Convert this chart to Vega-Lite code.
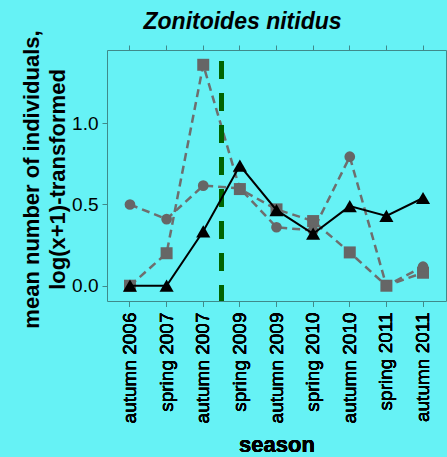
{
  "$schema": "https://vega.github.io/schema/vega-lite/v6.json",
  "width": 339,
  "height": 251,
  "autosize": {"type": "none"},
  "padding": {"left": 107, "top": 50, "right": 1, "bottom": 156},
  "background": "#66f2f5",
  "config": {
    "view": {"stroke": "#3f8a8a", "strokeWidth": 1, "fill": null},
    "font": "Liberation Sans",
    "axis": {"grid": false, "domain": false, "tickColor": "#3f8a8a", "tickSize": 5, "labelColor": "#000000", "labelFont": "Liberation Sans", "labelFontSize": 19, "titleFont": "Liberation Sans", "titleColor": "#000000"}
  },
  "title": {"text": "Zonitoides nitidus", "fontSize": 23, "fontWeight": "bold", "fontStyle": "italic", "color": "#000000", "anchor": "middle", "frame": "group", "dx": -34, "baseline": "alphabetic", "offset": -22},
  "data": {
    "values": [
      {"season": "autumn 2006", "series": "s1", "value": 0.0},
      {"season": "spring 2007", "series": "s1", "value": 0.0},
      {"season": "autumn 2007", "series": "s1", "value": 0.335},
      {"season": "spring 2009", "series": "s1", "value": 0.74},
      {"season": "autumn 2009", "series": "s1", "value": 0.465},
      {"season": "spring 2010", "series": "s1", "value": 0.32},
      {"season": "autumn 2010", "series": "s1", "value": 0.49},
      {"season": "spring 2011", "series": "s1", "value": 0.43},
      {"season": "autumn 2011", "series": "s1", "value": 0.54},
      {"season": "autumn 2006", "series": "s2", "value": 0.0},
      {"season": "spring 2007", "series": "s2", "value": 0.2},
      {"season": "autumn 2007", "series": "s2", "value": 1.36},
      {"season": "spring 2009", "series": "s2", "value": 0.595},
      {"season": "autumn 2009", "series": "s2", "value": 0.47},
      {"season": "spring 2010", "series": "s2", "value": 0.398},
      {"season": "autumn 2010", "series": "s2", "value": 0.205},
      {"season": "spring 2011", "series": "s2", "value": 0.0},
      {"season": "autumn 2011", "series": "s2", "value": 0.08},
      {"season": "autumn 2006", "series": "s3", "value": 0.5},
      {"season": "spring 2007", "series": "s3", "value": 0.41},
      {"season": "autumn 2007", "series": "s3", "value": 0.616},
      {"season": "spring 2009", "series": "s3", "value": 0.6},
      {"season": "autumn 2009", "series": "s3", "value": 0.36},
      {"season": "spring 2010", "series": "s3", "value": 0.34},
      {"season": "autumn 2010", "series": "s3", "value": 0.794},
      {"season": "spring 2011", "series": "s3", "value": 0.0},
      {"season": "autumn 2011", "series": "s3", "value": 0.117}
    ]
  },
  "encoding": {
    "x": {
      "field": "season", "type": "nominal",
      "sort": ["autumn 2006", "spring 2007", "autumn 2007", "spring 2009", "autumn 2009", "spring 2010", "autumn 2010", "spring 2011", "autumn 2011"],
      "scale": {"type": "band", "paddingInner": 0, "paddingOuter": 0.127},
      "axis": {"orient": "bottom", "labelAngle": -90, "labelPadding": 6, "title": "season", "titleFontSize": 22, "titleFontWeight": "bold", "titleY": 150, "titleBaseline": "alphabetic"}
    },
    "y": {
      "field": "value", "type": "quantitative",
      "scale": {"domain": [-0.094, 1.451], "nice": false, "zero": false},
      "axis": {"values": [0, 0.5, 1.0], "format": ".1f", "labelPadding": 4, "title": ["mean number of individuals,", "log(x+1)-transformed"], "titleFontSize": 22, "titleFontWeight": "bold", "titleAngle": -90, "titleX": -69, "titleY": 129, "titleAlign": "center", "titleBaseline": "alphabetic", "titleLineHeight": 26}
    }
  },
  "layer": [
    {
      "transform": [{"filter": "datum.series !== 's1'"}],
      "mark": {"type": "line", "color": "#6e6e6e", "strokeWidth": 2.5, "strokeDash": [8, 5]},
      "encoding": {"detail": {"field": "series"}}
    },
    {
      "transform": [{"filter": "datum.series !== 's1'"}],
      "mark": {"type": "point", "filled": true, "opacity": 1, "color": "#666666"},
      "encoding": {
        "shape": {"field": "series", "scale": {"domain": ["s2", "s3"], "range": ["square", "circle"]}, "legend": null},
        "size": {"field": "series", "scale": {"domain": ["s2", "s3"], "range": [144, 115]}, "legend": null}
      }
    },
    {
      "mark": {"type": "rule", "color": "#006400", "strokeWidth": 4, "strokeDash": [18, 14]},
      "encoding": {
        "x": {"datum": "autumn 2007", "bandPosition": 1},
        "y": {"datum": 1.384},
        "y2": {"datum": -0.094}
      }
    },
    {
      "transform": [{"filter": "datum.series === 's1'"}],
      "mark": {"type": "line", "color": "#000000", "strokeWidth": 2}
    },
    {
      "transform": [{"filter": "datum.series === 's1'"}],
      "mark": {"type": "point", "shape": "triangle-up", "filled": true, "opacity": 1, "color": "#000000", "size": 200}
    },
    {
      "mark": {"type": "rule", "opacity": 0},
      "encoding": {
        "x": {"field": "season", "type": "nominal", "sort": ["autumn 2006", "spring 2007", "autumn 2007", "spring 2009", "autumn 2009", "spring 2010", "autumn 2010", "spring 2011", "autumn 2011"], "axis": {"orient": "top", "labels": false, "title": null, "ticks": true}},
        "y": {"field": "value", "type": "quantitative"}
      }
    }
  ],
  "resolve": {"axis": {"x": "independent"}}
}
